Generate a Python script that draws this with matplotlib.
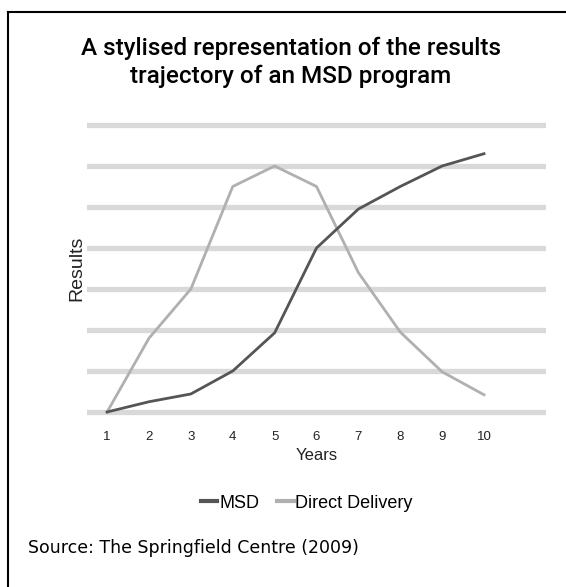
import matplotlib.pyplot as plt
from matplotlib.lines import Line2D

years = [1, 2, 3, 4, 5, 6, 7, 8, 9, 10]
msd = [0, 0.25, 0.44, 1.0, 1.93, 4.0, 4.95, 5.5, 6.0, 6.3]
direct = [0, 1.8, 3.0, 5.5, 6.0, 5.5, 3.4, 1.95, 0.98, 0.42]
grid_levels = [0, 1, 2, 3, 4, 5, 6, 7]

narrow = ['Liberation Sans Narrow', 'Liberation Sans', 'DejaVu Sans']

W, H = 566, 587
fig = plt.figure(figsize=(W / 100, H / 100), dpi=100)

# axes placed in pixels: x 87..546, y 0 at 412px and 7 at 125px
pad = 0.1 * 41
ax = fig.add_axes([87 / W, (175 - pad) / H, (546 - 87) / W, (287 + 2 * pad) / H])
ax.set_xlim(0.52, 11.48)
ax.set_ylim(-0.1, 7.1)

for g in grid_levels:
    ax.axhline(g, color='#d9d9d9', lw=3.8, zorder=0)

ax.plot(years, direct, color='#b0b0b0', lw=2.0, zorder=2)
ax.plot(years, msd, color='#555555', lw=2.0, zorder=3)

for s in ax.spines.values():
    s.set_visible(False)
ax.set_yticks([])
ax.set_xticks(years)
ax.set_xticklabels([str(y) for y in years], family=narrow, fontsize=9.5, color='#222222')
ax.tick_params(axis='x', length=0, pad=11)
ax.set_xlabel('Years', family=narrow, fontsize=12, color='#222222', labelpad=3)
ax.set_ylabel('Results', family=['Liberation Sans', 'DejaVu Sans'], fontsize=14,
              color='#222222', labelpad=1)

handles = [Line2D([], [], color='#555555', lw=3),
           Line2D([], [], color='#b0b0b0', lw=3)]
fig.legend(handles, ['MSD', 'Direct Delivery'], loc='center', ncol=2,
           bbox_to_anchor=(307 / W, 1 - 503 / H), frameon=False,
           prop={'family': narrow, 'size': 13}, handlelength=0.9,
           handletextpad=0.1, columnspacing=1.0)

title_font = ['Roboto', 'Liberation Sans', 'DejaVu Sans']
fig.text(291 / W, 1 - 48 / H, 'A stylised representation of the results',
         ha='center', va='center', family=title_font, weight='medium', fontsize=17.5)
fig.text(291 / W, 1 - 76 / H, 'trajectory of an MSD program',
         ha='center', va='center', family=title_font, weight='medium', fontsize=17.5)
fig.text(28 / W, 1 - 548 / H, 'Source: The Springfield Centre (2009)',
         ha='left', va='center', family=['DejaVu Sans'], fontsize=12.5)

# frame: top and left edges only
fig.add_artist(Line2D([8 / W, 1], [1 - 12 / H, 1 - 12 / H], color='black', lw=1.5))
fig.add_artist(Line2D([8 / W, 8 / W], [0, 1 - 12 / H], color='black', lw=1.5))

fig.savefig('out.png', dpi=100)
